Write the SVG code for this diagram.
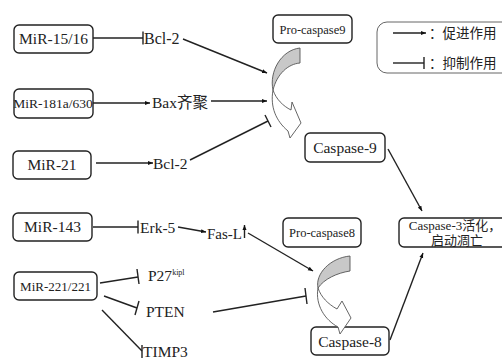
<svg xmlns="http://www.w3.org/2000/svg" width="502" height="358" viewBox="0 0 502 358">
<defs>
<marker id="ah" viewBox="0 0 10 10" refX="10" refY="5" markerWidth="5" markerHeight="5" orient="auto" markerUnits="userSpaceOnUse">
<path d="M0,1 L10,5 L0,9 Z" fill="#111"/>
</marker>
<style>
.box{fill:#fff;stroke:#222;stroke-width:1.4}
.t{fill:#222}
.ln{stroke:#222;stroke-width:1.4;fill:none}
.arr{stroke:#222;stroke-width:1.4;fill:none;marker-end:url(#ah)}
.gray{fill:#c8c8c8;stroke:#555;stroke-width:0.9}
.hol{fill:#fff;stroke:#555;stroke-width:0.9}
</style>
</defs>
<rect width="502" height="358" fill="#fff"/>
<g font-family="Liberation Serif, Noto Sans CJK SC, serif">
<g id="legend">
<rect x="377" y="22" width="135" height="51" rx="10" class="box" style="stroke:#666;stroke-width:1"/>
<line x1="393" y1="33" x2="426" y2="33" class="arr"/>
<text x="429" y="38" class="t" font-size="13.5">：促进作用</text>
<line x1="393" y1="63" x2="424" y2="63" class="ln"/>
<line x1="424" y1="57" x2="424" y2="69" class="ln"/>
<text x="429" y="68" class="t" font-size="13.5">：抑制作用</text>
</g>

<g id="mir15"><rect x="14" y="25" width="79" height="28" rx="5" class="box"/><text x="53.5" y="44" text-anchor="middle" class="t" font-size="15.5">MiR-15/16</text></g>
<g id="mir181"><rect x="14" y="89" width="79" height="29" rx="5" class="box"/><text x="53" y="108" text-anchor="middle" class="t" font-size="13.5">MiR-181a/630</text></g>
<g id="mir21"><rect x="13" y="151" width="78" height="28" rx="5" class="box"/><text x="52" y="170" text-anchor="middle" class="t" font-size="15.5">MiR-21</text></g>
<g id="mir143"><rect x="13" y="213" width="79" height="28" rx="5" class="box"/><text x="52.5" y="232" text-anchor="middle" class="t" font-size="15.5">MiR-143</text></g>
<g id="mir221"><rect x="14" y="272" width="83" height="28" rx="5" class="box"/><text x="55.5" y="290.5" text-anchor="middle" class="t" font-size="13">MiR-221/221</text></g>

<g id="bcl2a"><text x="144" y="43.5" class="t" font-size="16">Bcl-2</text></g>
<g id="bax"><text x="152" y="107.5" class="t" font-size="15.5">Bax齐聚</text></g>
<g id="bcl2b"><text x="153" y="168.5" class="t" font-size="15.5">Bcl-2</text></g>
<g id="erk5"><text x="140" y="232.5" class="t" font-size="15.5">Erk-5</text></g>
<g id="fasl"><text x="207" y="238.5" class="t" font-size="15">Fas-L</text></g>
<g id="p27"><text x="148" y="281" class="t" font-size="15.5">P27<tspan font-size="8" dy="-6">kipl</tspan></text></g>
<g id="pten"><text x="146" y="317" class="t" font-size="15.5">PTEN</text></g>
<g id="timp3"><text x="143" y="357" class="t" font-size="15.5">TIMP3</text></g>

<g id="procasp9"><rect x="273" y="15" width="79" height="28" rx="5" class="box"/><text x="312.5" y="33.5" text-anchor="middle" class="t" font-size="12.5">Pro-caspase9</text></g>
<g id="casp9"><rect x="305" y="133" width="80" height="29" rx="5" class="box"/><text x="345" y="153" text-anchor="middle" class="t" font-size="15.5">Caspase-9</text></g>
<g id="procasp8"><rect x="283" y="218" width="78" height="29" rx="5" class="box"/><text x="322" y="237" text-anchor="middle" class="t" font-size="12.5">Pro-caspase8</text></g>
<g id="casp3"><rect x="399" y="218" width="112" height="29" rx="5" class="box"/><text x="455" y="230" text-anchor="middle" class="t" font-size="13">Caspase-3活化，</text><text x="457" y="244.5" text-anchor="middle" class="t" font-size="13">启动凋亡</text></g>
<g id="casp8"><rect x="311" y="327" width="78" height="28" rx="5" class="box"/><text x="350" y="347" text-anchor="middle" class="t" font-size="15.5">Caspase-8</text></g>
</g>
<g id="curve9">
<path class="gray" d="M300,48 L300,63 C288,64 277,74 273,90 C269,72 281,50 300,48 Z"/>
<path class="hol" d="M273,90 C270,107 276,121 288,131 L290,138 L301,123 L292,102 L291,110 C283,106 276,99 273,90 Z"/>
</g>
<g id="curve8">
<path class="gray" d="M350,256 L350,271 C337,273 324,279 318,288 C315,274 330,258 350,256 Z"/>
<path class="hol" d="M318,288 C315,305 325,320 338,327 L340,334 L351,318 L342,301 L337,309 C328,304 321,297 318,288 Z"/>
</g>

<g id="connectors">
<line x1="93" y1="38" x2="143" y2="38" class="ln"/>
<line x1="143" y1="31.5" x2="143" y2="44.5" class="ln"/>
<line x1="93" y1="103" x2="150" y2="103" class="arr"/>
<line x1="96" y1="163" x2="153" y2="163" class="arr"/>
<line x1="93" y1="227" x2="138" y2="227" class="ln"/>
<line x1="138" y1="220.5" x2="138" y2="233.5" class="ln"/>
<line x1="178" y1="227" x2="206" y2="232" class="arr"/>
<line x1="244.5" y1="238" x2="244.5" y2="225" class="arr"/>
<line x1="183" y1="39" x2="267" y2="73" class="arr"/>
<line x1="211" y1="101" x2="267" y2="101" class="arr"/>
<line x1="190" y1="160" x2="268" y2="121" class="ln"/>
<line x1="265" y1="115" x2="271" y2="127" class="ln"/>
<line x1="248" y1="233" x2="313" y2="271" class="arr"/>
<line x1="100" y1="283" x2="138" y2="277" class="ln"/>
<line x1="137" y1="269" x2="139" y2="284" class="ln"/>
<line x1="104" y1="296" x2="137" y2="308" class="ln"/>
<line x1="139" y1="301" x2="135" y2="315" class="ln"/>
<line x1="102" y1="310" x2="142" y2="351" class="ln"/>
<line x1="142" y1="345" x2="142" y2="358" class="ln"/>
<line x1="213" y1="312" x2="306" y2="296" class="ln"/>
<line x1="305" y1="288" x2="307" y2="304" class="ln"/>
<line x1="388" y1="149" x2="422" y2="211" class="arr"/>
<line x1="390" y1="340" x2="423" y2="253" class="arr"/>
</g>
</svg>
